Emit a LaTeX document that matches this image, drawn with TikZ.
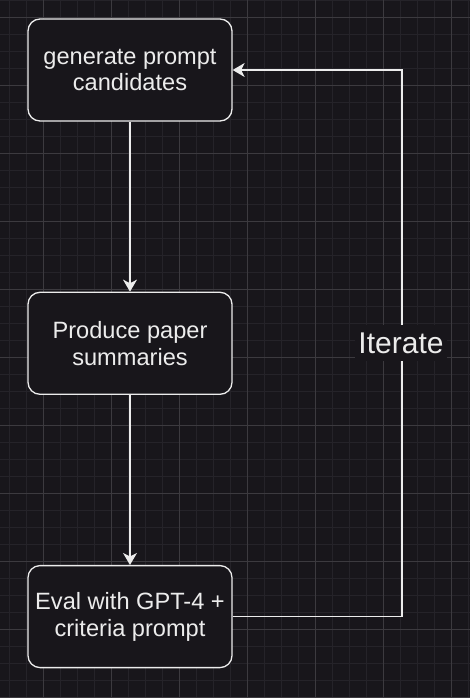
\documentclass[tikz,border=0pt]{standalone}
\usepackage{fontspec}
\setmainfont{Liberation Sans}
\usetikzlibrary{arrows.meta,positioning}
\definecolor{canvas}{RGB}{24,22,27}
\definecolor{gridminor}{RGB}{37,35,41}
\definecolor{gridmajor}{RGB}{60,58,63}
\definecolor{ink}{RGB}{236,236,236}

\tikzset{
  stepbox/.style={draw=ink, line width=1.3pt, fill=canvas, rounded corners=12pt,
    minimum width=204pt, minimum height=102pt, align=center, text=ink,
    font=\fontsize{23.6}{26.7}\selectfont},
  conn/.style={draw=ink, line width=1.3pt},
  tip/.style={conn, -{Stealth[length=12pt,width=14pt,inset=3.5pt]}}
}

\begin{document}
\begin{tikzpicture}[x=1pt, y=-1pt, node distance=170pt]
  % Canvas and grid
  \def\cw{470}
  \def\ch{698}
  \useasboundingbox (0,0) rectangle (\cw,\ch);
  \fill[canvas] (0,0) rectangle (\cw,\ch);
  \foreach \i in {0,...,27} {
    \draw[gridminor, line width=1pt] (9.3+17*\i, 0) -- (9.3+17*\i, \ch);
  }
  \foreach \j in {0,...,41} {
    \draw[gridminor, line width=1pt] (0, 0.3+17*\j) -- (\cw, 0.3+17*\j);
  }
  \foreach \i in {0,...,6} {
    \draw[gridmajor, line width=1pt] (43.3+68*\i, 0) -- (43.3+68*\i, \ch);
  }
  \foreach \j in {0,...,10} {
    \draw[gridmajor, line width=1pt] (0, 17.3+68*\j) -- (\cw, 17.3+68*\j);
  }

  % Steps
  \node[stepbox] (gen) at (130,70) {generate prompt\\candidates};
  \node[stepbox, below=of gen] (summ) {Produce paper\\summaries};
  \node[stepbox, below=of summ] (eval) {Eval with GPT-4 +\\criteria prompt};

  % Flow down
  \draw[tip] (gen) -- (summ);
  \draw[tip] (summ) -- (eval);

  % Loop back
  \coordinate (back) at (402,0);
  \draw[tip] (eval.east) -- (eval.east -| back) -- (gen.east -| back) -- (gen.east);
  \node[fill=canvas, text=ink, inner xsep=3pt, inner ysep=8pt,
    font=\fontsize{30}{36}\selectfont] (iter) at (401,343) {Iterate};
\end{tikzpicture}
\end{document}
